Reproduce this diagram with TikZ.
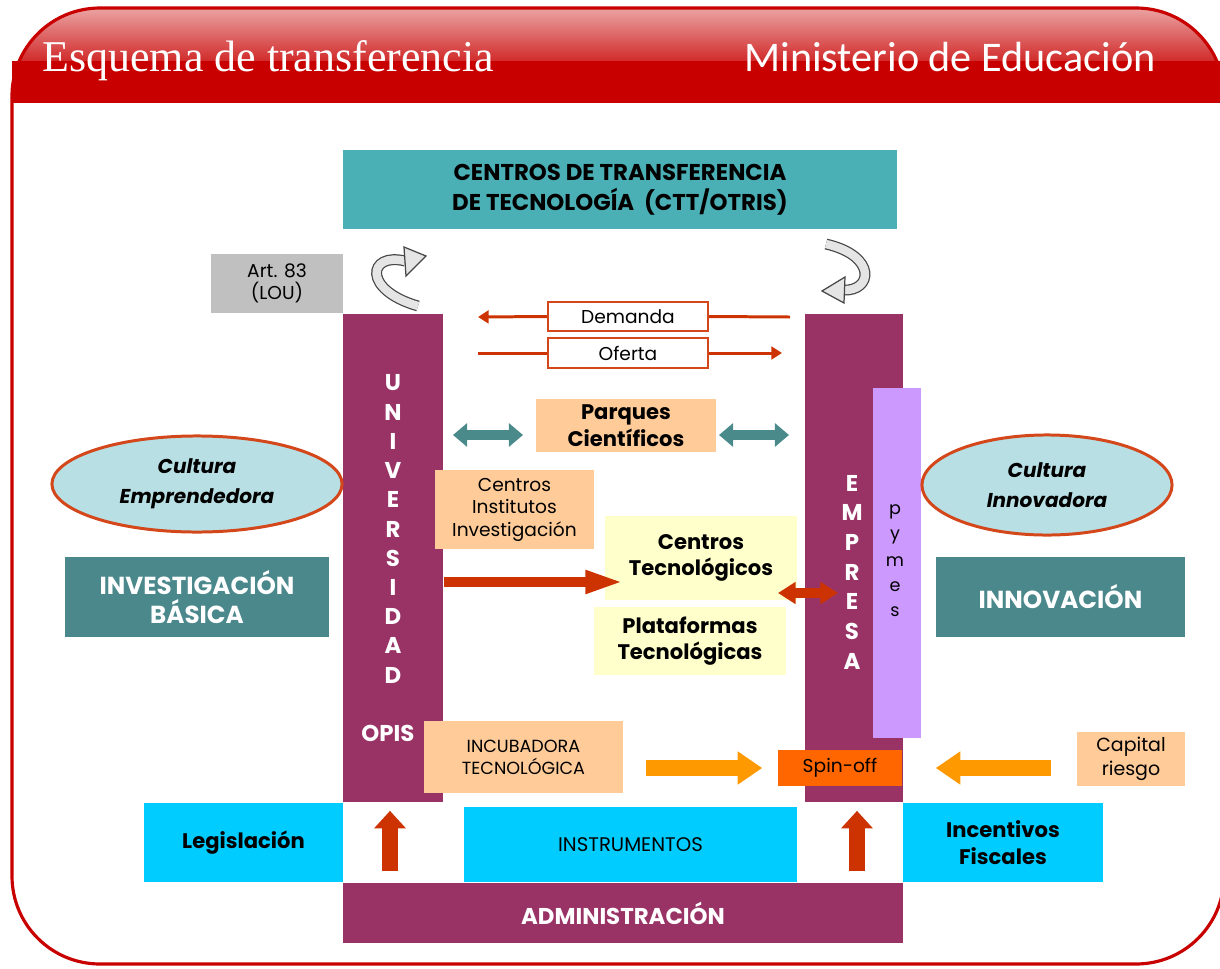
\documentclass[tikz,border=0pt]{standalone}
\usepackage{fontspec}
\setmainfont{Poppins}
\newfontfamily\titlefont{Liberation Serif}
\newfontfamily\minfont{Carlito}
\usepackage{tikz}
\usetikzlibrary{arrows.meta,shapes.geometric,calc}

\definecolor{headred}{HTML}{C80000}
\definecolor{headpink}{HTML}{EBA3A3}
\definecolor{plum}{HTML}{993366}
\definecolor{cttteal}{HTML}{4BB0B6}
\definecolor{darkteal}{HTML}{4A888C}
\definecolor{peach}{HTML}{FFCC99}
\definecolor{paleyellow}{HTML}{FFFFCC}
\definecolor{skycyan}{HTML}{00CCFF}
\definecolor{lavender}{HTML}{CC99FF}
\definecolor{cloudblue}{HTML}{B8DFE3}
\definecolor{rimred}{HTML}{D4471A}
\definecolor{artgray}{HTML}{C0C0C0}
\definecolor{arrowred}{HTML}{CC3300}
\definecolor{arroworange}{HTML}{FF9900}
\definecolor{spinorange}{HTML}{FF6600}
\definecolor{arrowteal}{HTML}{4A8A8A}

\tikzset{
  box/.style={inner sep=0pt, align=center, text=black},
  boldtext/.style={font=\bfseries\fontsize{6}{7.6}\selectfont},
  plaintext/.style={font=\fontsize{5.3}{6.4}\selectfont},
  whitetext/.style={text=white, font=\bfseries\fontsize{7}{8.3}\selectfont},
  vletter/.style={text=white, inner sep=0pt, font=\bfseries\fontsize{6.5}{7}\selectfont},
  cloud/.style={ellipse, inner sep=0pt, fill=cloudblue, draw=rimred, line width=0.85pt,
    align=center, font=\bfseries\itshape\fontsize{5.7}{8.5}\selectfont},
  flowbox/.style={box, fill=white, draw=rimred, line width=0.6pt, plaintext},
  thinred/.style={draw=arrowred, line width=0.85pt},
  bigred/.style={draw=arrowred, line width=2.85pt, -{Triangle[width=6pt,length=11pt]}},
  tealboth/.style={draw=arrowteal, line width=2.85pt,
    {Triangle[width=6.5pt,length=4pt]}-{Triangle[width=6.5pt,length=4pt]}},
  orangearrow/.style={draw=arroworange, line width=4.3pt, -{Triangle[width=9pt,length=7pt]}},
  uparrow/.style={draw=arrowred, line width=4.3pt, -{Triangle[width=8.8pt,length=5pt]}},
  curvearrow/.style={draw=gray!55!black, line width=0.35pt, double=gray!20, double distance=2.4pt},
  curvetip/.style={draw=gray!55!black, line width=0.35pt, fill=gray!20},
}

\begin{document}
\begin{tikzpicture}[x=0.01cm,y=-0.01cm]
\useasboundingbox (0,0) rectangle (1220,969);
\fill[white] (0,0) rectangle (1220,969);

% header band
\fill[top color=headpink, bottom color=headred!75!headpink] (12,62) [rounded corners=25] -- (12,8) -- (1224,8) [sharp corners] -- (1224,62) -- cycle;
\fill[headred] (12,61) rectangle (1224,103);
\draw[headred, line width=0.9pt, rounded corners=25] (12,8) rectangle (1224,964);

\node[anchor=west, text=white, font=\titlefont\fontsize{12.5}{14}\selectfont] (title) at (30,61) {Esquema de transferencia};
\node[anchor=east, text=white, font=\minfont\fontsize{12}{14}\selectfont] (ministerio) at (1168,57) {Ministerio de Educación};

% top block
\node[box, boldtext, fill=cttteal, minimum width=5.54cm, minimum height=0.79cm,
  font=\bfseries\fontsize{6.5}{8.5}\selectfont] (ctt) at (620,189.5)
  {CENTROS DE TRANSFERENCIA\\DE TECNOLOGÍA\ \ (CTT/OTRIS)};
\node[box, plaintext, fill=artgray, minimum width=1.32cm, minimum height=0.59cm] (art) at (277,283.5) {Art. 83\\(LOU)};

% curved arrows
\draw[curvearrow] (418,306) .. controls (362,290) and (368,252) .. (405,261);
\filldraw[curvetip] (404,247) -- (426,256) -- (406,276) -- cycle;
\draw[curvearrow] (826,244) .. controls (878,256) and (872,292) .. (843,290);
\filldraw[curvetip] (845,277) -- (822,291) -- (844,303) -- cycle;

% main columns
\node[box, fill=plum, minimum width=1.00cm, minimum height=4.88cm] (univ) at (393,558) {};
\node[box, fill=plum, minimum width=0.98cm, minimum height=4.88cm] (empresa) at (854,558) {};
\foreach \l [count=\i] in {U,N,I,V,E,R,S,I,D,A,D}
  \node[vletter] (univ\i) at (393,{383+29.2*(\i-1)}) {\l};
\foreach \l [count=\i] in {E,M,P,R,E,S,A}
  \node[vletter] (emp\i) at (852,{483+29.7*(\i-1)}) {\l};
\node[vletter] (opis) at (388,733) {OPIS};
\node[box, fill=lavender, minimum width=0.48cm, minimum height=3.50cm] (pymes) at (897,563) {};
\foreach \l [count=\i] in {p,y,m,e,s}
  \node[inner sep=0pt, font=\fontsize{5}{6}\selectfont] (pym\i) at (895,{512+25*(\i-1)}) {\l};

% demand and offer
\node[flowbox, minimum width=1.60cm, minimum height=0.29cm] (demanda) at (628,316.5) {Demanda};
\node[flowbox, minimum width=1.60cm, minimum height=0.30cm] (oferta) at (628,353) {Oferta};
\coordinate (demend) at (478,317);
\coordinate (demstart) at (790,317);
\coordinate (ofestart) at (478,353);
\coordinate (ofeend) at (782,353);
\draw[thinred] (demstart) -- (demanda.east);
\draw[thinred, -{Triangle[width=3.6pt,length=3pt]}] (demanda.west) -- (demend);
\draw[thinred] (ofestart) -- (oferta.west);
\draw[thinred, -{Triangle[width=3.6pt,length=3pt]}] (oferta.east) -- (ofeend);

% centres
\node[box, boldtext, fill=peach, minimum width=1.80cm, minimum height=0.53cm] (parques) at (626,425.5) {Parques\\Científicos};
\coordinate (parkleftA) at (453,435);
\coordinate (parkleftB) at (523,435);
\coordinate (parkrightA) at (719,435);
\coordinate (parkrightB) at (789,435);
\draw[tealboth] (parkleftA) -- (parkleftB);
\draw[tealboth] (parkrightA) -- (parkrightB);
\node[box, plaintext, fill=peach, minimum width=1.59cm, minimum height=0.79cm] (cinst) at (514.5,509.5) {Centros\\Institutos\\Investigación};
\node[box, boldtext, fill=paleyellow, minimum width=1.92cm, minimum height=0.84cm] (ctec) at (701,558) {Centros\\Tecnológicos};
\node[box, boldtext, fill=paleyellow, minimum width=1.92cm, minimum height=0.68cm] (plat) at (690,641) {Plataformas\\Tecnológicas};
\coordinate (univtip) at (624,582);
\draw[bigred] (univ.east |- univtip) -- (univtip);
\coordinate (ctecleft) at (778,593);
\coordinate (ctecright) at (838,593);
\draw[draw=arrowred, line width=2.6pt, {Triangle[width=6pt,length=5pt]}-{Triangle[width=6pt,length=5pt]}] (ctecleft) -- (ctecright);

% sides
\node[cloud, minimum width=2.90cm, minimum height=0.96cm] (culte) at (197,484) {Cultura\\Emprendedora};
\node[cloud, minimum width=2.50cm, minimum height=1.00cm] (culti) at (1047,485) {Cultura\\Innovadora};
\node[box, whitetext, fill=darkteal, minimum width=2.64cm, minimum height=0.80cm] (invest) at (197,597) {INVESTIGACIÓN\\BÁSICA};
\node[box, whitetext, fill=darkteal, minimum width=2.49cm, minimum height=0.80cm] (innov) at (1060.5,597) {INNOVACIÓN};

% incubator line
\node[box, fill=peach, minimum width=1.99cm, minimum height=0.72cm, font=\fontsize{5}{6.3}\selectfont] (incub) at (523.5,757) {INCUBADORA\\TECNOLÓGICA};
\node[box, fill=spinorange, minimum width=1.24cm, minimum height=0.36cm, plaintext] (spin) at (840,768) {Spin-off};
\node[box, plaintext, fill=peach, minimum width=1.08cm, minimum height=0.54cm, font=\fontsize{5.4}{7}\selectfont] (capital) at (1131,759) {Capital\\riesgo};
\draw[orangearrow] ($(incub.east)+(22,11)$) -- ($(spin.west)+(-15,0)$);
\draw[orangearrow] ($(capital.west)+(-25,9)$) -- ($(spin.east)+(33,0)$);

% bottom
\node[box, boldtext, fill=skycyan, minimum width=1.99cm, minimum height=0.79cm] (legis) at (243.5,842.5) {Legislación};
\node[box, plaintext, fill=skycyan, minimum width=3.33cm, minimum height=0.75cm, font=\fontsize{5.6}{7}\selectfont] (instr) at (630.5,844.5) {INSTRUMENTOS};
\node[box, boldtext, fill=skycyan, minimum width=2.00cm, minimum height=0.79cm] (incent) at (1003,842.5) {Incentivos\\Fiscales};
\node[box, fill=plum, minimum width=5.60cm, minimum height=0.60cm, text=white,
  font=\bfseries\fontsize{6.5}{8}\selectfont] (admin) at (623,913) {ADMINISTRACIÓN};
\draw[uparrow] ($(admin.north -| univ)+(-3,-11)$) -- ($(univ.south)+(-3,8)$);
\draw[uparrow] ($(admin.north -| empresa)+(3,-11)$) -- ($(empresa.south)+(3,8)$);
\end{tikzpicture}
\end{document}
